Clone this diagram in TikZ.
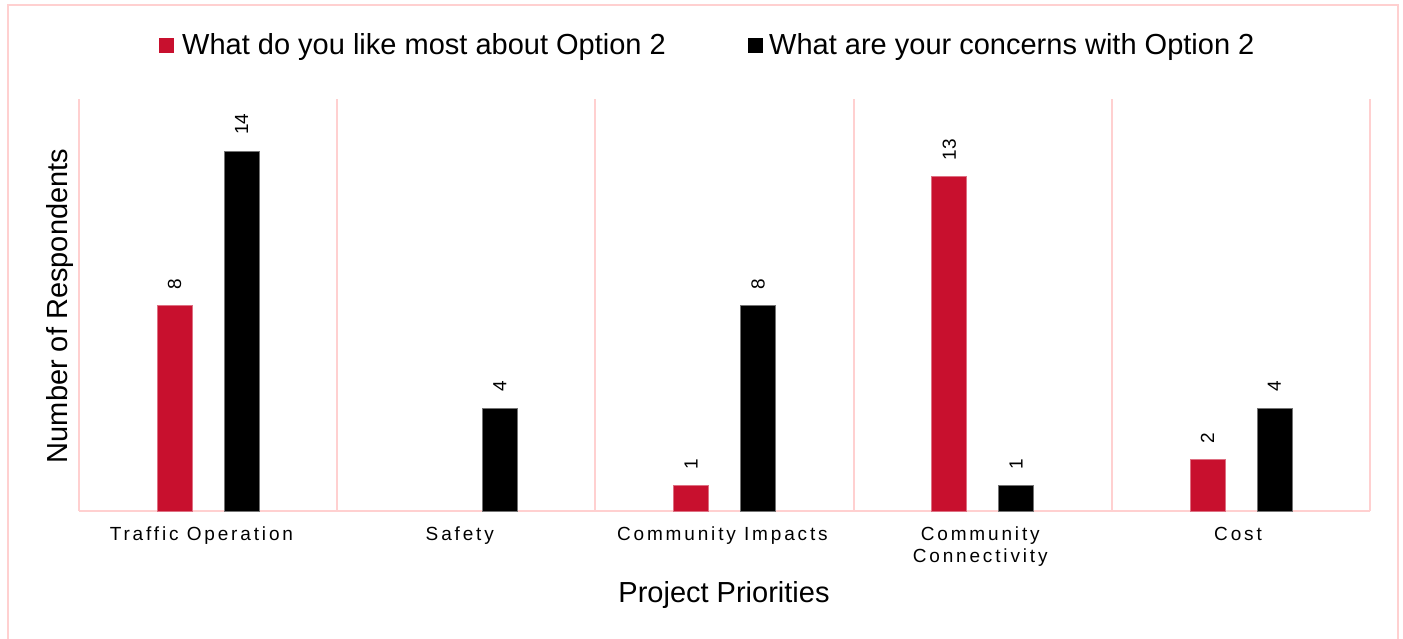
\documentclass[tikz,border=0pt]{standalone}
\usepackage{fontspec}
\setmainfont{Liberation Sans}
\newfontfamily\spacedfont[LetterSpace=15]{Liberation Sans}
\definecolor{barred}{RGB}{200,16,46}
\definecolor{gridpink}{RGB}{255,208,208}
\begin{document}
\begin{tikzpicture}[x=1pt,y=-1pt,
  grid/.style={draw=gridpink,line width=2pt},
  redbar/.style={fill=barred,draw=barred!60!white,line width=0.6pt},
  blackbar/.style={fill=black,draw=black!55,line width=0.6pt},
  vlabel/.style={rotate=90,anchor=west,inner sep=0pt,font=\fontsize{19}{22}\selectfont},
  catlabel/.style={anchor=north,inner sep=0pt,align=center,font=\spacedfont\fontsize{19}{22}\selectfont},
  big/.style={inner sep=0pt,font=\fontsize{29}{34}\selectfont}]
\useasboundingbox (0,0) rectangle (1403,638);
\fill[white] (0,0) rectangle (1403,638);
% frame
\draw[grid] (8,5) rectangle (1398,648);
% grid
\foreach \k in {0,...,5}
  \draw[grid] ({79+258.2*\k},99) -- ({79+258.2*\k},511);
\draw[grid] (79,511) -- (1370,511);
% legend
\node[fill=barred,minimum size=15pt,inner sep=0pt] (sq1) at (166.5,45.5) {};
\node[big,anchor=base west] (leg1) at (182,54) {What do you like most about Option 2};
\node[fill=black,minimum size=15pt,inner sep=0pt] (sq2) at (755,45.5) {};
\node[big,anchor=base west] (leg2) at (769,54) {What are your concerns with Option 2};
% bars
\foreach \i/\r/\b in {0/8/14,1/0/4,2/1/8,3/13/1,4/2/4} {
  \pgfmathsetmacro\cx{79+258.2*(\i+0.5)}
  \pgfmathsetmacro\rt{511-25.714*\r}
  \pgfmathsetmacro\bt{511-25.714*\b}
  \ifnum\r>0
    \draw[redbar] (\cx-51,511) rectangle (\cx-16,\rt);
    \node[vlabel] (rl\i) at (\cx-33.5,\rt-16) {\r};
  \fi
  \draw[blackbar] (\cx+16,511) rectangle (\cx+51,\bt);
  \node[vlabel] (bl\i) at (\cx+33.5,\bt-16) {\b};
}
% category labels
\node[catlabel] (c0) at (201.4,527) {Traffic Operation};
\node[catlabel] (c1) at (459.8,527) {Safety};
\node[catlabel] (c2) at (722.4,527) {Community Impacts};
\node[catlabel] (c3) at (980.2,527) {Community\\Connectivity};
\node[catlabel] (c4) at (1238,527) {Cost};
% axis titles
\node[big,anchor=base] (xt) at (724,602) {Project Priorities};
\node[big,rotate=90] (yt) at (60,306) {Number of Respondents};
\end{tikzpicture}
\end{document}
